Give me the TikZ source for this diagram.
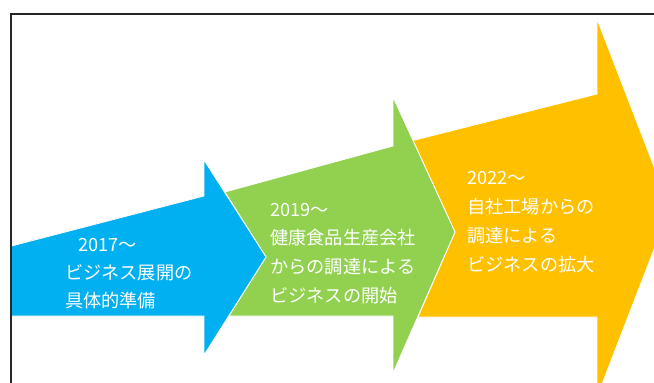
\documentclass[tikz,border=0pt]{standalone}
\usepackage{fontspec}
\setmainfont{Noto Sans CJK JP}
\definecolor{cblue}{HTML}{00B0F0}
\definecolor{cgreen}{HTML}{92D050}
\definecolor{cyellow}{HTML}{FFC000}
\tikzset{
  arrowshape/.style={draw=white, line width=0.8pt, line join=miter},
  frameline/.style={draw=black!85, line width=2pt},
  lbl/.style={anchor=west, inner sep=0pt, text=white, font=\fontsize{18.2pt}{22pt}\selectfont}
}
\begin{document}
\begin{tikzpicture}[x=1pt,y=-1pt]
\useasboundingbox (0,0) rectangle (654,383);
\begin{scope}
\clip (0,0) rectangle (654,383);
\fill[white] (0,0) rectangle (654,383);
% yellow arrow
\draw[arrowshape, fill=cyellow] (413,140.5) -- (597,94) -- (597,19) -- (670,208) -- (597,397) -- (597,317) -- (418,317) -- (455,232) -- cycle;
% green arrow
\draw[arrowshape, fill=cgreen] (225,192) -- (393,146) -- (393,97) -- (455,232) -- (393,373) -- (393,316) -- (229,316) -- (266,257) -- cycle;
% blue arrow
\draw[arrowshape, fill=cblue] (11.5,246) -- (204,196) -- (204,160) -- (266,257) -- (204,355) -- (204,316) -- (11.5,316) -- cycle;
% frame
\draw[frameline] (10.5,13.5) rectangle (700,450);
\end{scope}
% texts
\node[lbl] (b1) at (78,245) {2017～};
\node[lbl] (b2) at (65,273) {ビジネス展開の};
\node[lbl] (b3) at (65,301) {具体的準備};
\node[lbl] (g1) at (270,210) {2019～};
\node[lbl] (g2) at (270,238) {健康食品生産会社};
\node[lbl] (g3) at (270,267) {からの調達による};
\node[lbl] (g4) at (270,296) {ビジネスの開始};
\node[lbl] (y1) at (467,178) {2022～};
\node[lbl] (y2) at (467,207) {自社工場からの};
\node[lbl] (y3) at (467,236) {調達による};
\node[lbl] (y4) at (467,265) {ビジネスの拡大};
\end{tikzpicture}
\end{document}
